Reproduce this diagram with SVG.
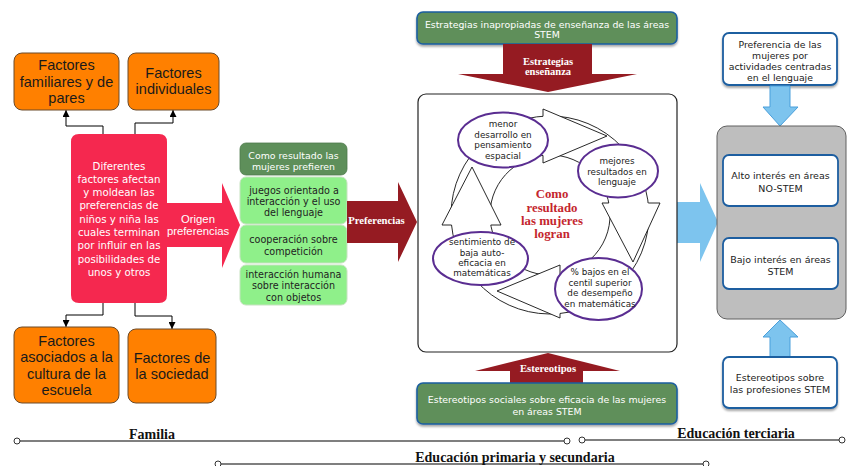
<svg xmlns="http://www.w3.org/2000/svg" width="849" height="466" viewBox="0 0 849 466">
<style>
.orange{fill:#FF8000;stroke:#6A4A2A;stroke-width:1}
.otxt{font-family:"Liberation Sans",Arial,sans-serif;font-size:14.5px;fill:#1a1a1a;text-anchor:middle}
.luc{font-family:"DejaVu Sans",sans-serif;text-anchor:middle}
.w{fill:#ffffff}
.dk{fill:#222222}
.ser{font-family:"Liberation Serif","Times New Roman",serif;font-weight:bold;text-anchor:middle}
.dgreen{fill:#5E8F5A;stroke:#1D5EA0;stroke-width:1.6}
.lgreen{fill:#8FF08A;stroke:#C6E2C0;stroke-width:1}
.darr{fill:#951B22}
.barr{fill:#7DC4EE;stroke:#4A9FDB;stroke-width:1}
.wbox{fill:#ffffff;stroke:#1D5EA0;stroke-width:1.8}
.band{fill:#ffffff;stroke:#111;stroke-width:0.9}
.hfill{fill:#ffffff;stroke:none}
.hstroke{fill:none;stroke:#111;stroke-width:0.9;stroke-linejoin:miter}
.ell{fill:#ffffff;stroke:#5A2D91;stroke-width:2}
.conn{fill:none;stroke:#000;stroke-width:1}
.tl{stroke:#555;stroke-width:1.5;fill:none}
.dot{fill:#fff;stroke:#333;stroke-width:1}
</style>
<defs>
<marker id="ah" viewBox="0 0 8 8" refX="8" refY="4" markerWidth="7" markerHeight="7" markerUnits="userSpaceOnUse" orient="auto"><path d="M0,0 L8,4 L0,8 Z" fill="#000"/></marker>
<filter id="sh" x="-10%" y="-20%" width="120%" height="150%"><feDropShadow dx="0" dy="2" stdDeviation="1.3" flood-color="#000" flood-opacity="0.35"/></filter>
</defs>

<!-- connectors -->
<g id="connectors">
<path class="conn" d="M103,134 V126 H66 V110" marker-end="url(#ah)"/>
<path class="conn" d="M135,134 V123 H173 V110" marker-end="url(#ah)"/>
<path class="conn" d="M103,303 V315 H66 V327" marker-end="url(#ah)"/>
<path class="conn" d="M135,303 V316 H172 V329" marker-end="url(#ah)"/>
</g>

<g id="n-familiares">
<rect class="orange" x="14" y="53" width="105" height="57" rx="8"/>
<text class="otxt" x="66.5" y="70">Factores</text>
<text class="otxt" x="66.5" y="87">familiares y de</text>
<text class="otxt" x="66.5" y="103">pares</text>
</g>
<g id="n-individuales">
<rect class="orange" x="128" y="53" width="91" height="57" rx="8"/>
<text class="otxt" x="173.5" y="78">Factores</text>
<text class="otxt" x="173.5" y="94">individuales</text>
</g>
<g id="n-escuela">
<rect class="orange" x="14" y="327" width="105" height="76" rx="8"/>
<text class="otxt" x="66.5" y="346">Factores</text>
<text class="otxt" x="66.5" y="362">asociados a la</text>
<text class="otxt" x="66.5" y="379">cultura de la</text>
<text class="otxt" x="66.5" y="395">escuela</text>
</g>
<g id="n-sociedad">
<rect class="orange" x="128" y="329" width="88" height="74" rx="8"/>
<text class="otxt" x="172" y="363">Factores de</text>
<text class="otxt" x="172" y="379">la sociedad</text>
</g>

<g id="n-diferentes">
<path d="M79,134 H159 Q167,134 167,142 V203 H222 V183 L240,225 L222,268 V247 H167 V295 Q167,303 159,303 H79 Q71,303 71,295 V142 Q71,134 79,134 Z" fill="#F5284F"/>
<g class="luc w" font-size="10.2">
<text x="119" y="169.5">Diferentes</text>
<text x="119" y="182.8">factores afectan</text>
<text x="119" y="196.1">y moldean las</text>
<text x="119" y="209.4">preferencias de</text>
<text x="119" y="222.7">niños y niña las</text>
<text x="119" y="236">cuales terminan</text>
<text x="119" y="249.3">por influir en las</text>
<text x="119" y="262.6">posibilidades de</text>
<text x="119" y="275.9">unos y otros</text>
</g>
<text x="198" y="223" font-family="Liberation Sans, Arial, sans-serif" font-size="11.3" fill="#fff" text-anchor="middle">Origen</text>
<text x="198" y="235" font-family="Liberation Sans, Arial, sans-serif" font-size="11.3" fill="#fff" text-anchor="middle">preferencias</text>
</g>

<g id="n-prefieren">
<rect class="dgreen" x="240" y="143" width="107" height="32" rx="6" style="stroke:#4E7A4B;stroke-width:0.8"/>
<text class="luc w" font-size="9.4" x="293.5" y="158.5">Como resultado las</text>
<text class="luc w" font-size="9.4" x="293.5" y="169.5">mujeres prefieren</text>
</g>
<g id="n-juegos">
<rect class="lgreen" x="240" y="177" width="107" height="47" rx="6"/>
<text class="luc dk" font-size="9.6" x="294" y="193.5">juegos orientado a</text>
<text class="luc dk" font-size="9.6" x="293.5" y="204.5">interacción y el uso</text>
<text class="luc dk" font-size="9.6" x="293.5" y="215.5">del lenguaje</text>
</g>
<g id="n-cooperacion">
<rect class="lgreen" x="240" y="225" width="107" height="38" rx="6"/>
<text class="luc dk" font-size="9.6" x="293.5" y="242.5">cooperación sobre</text>
<text class="luc dk" font-size="9.6" x="293.5" y="254.5">competición</text>
</g>
<g id="n-interaccion">
<rect class="lgreen" x="240" y="265" width="107" height="40" rx="6"/>
<text class="luc dk" font-size="9.6" x="293.5" y="277.5">interacción humana</text>
<text class="luc dk" font-size="9.6" x="293.5" y="289">sobre interacción</text>
<text class="luc dk" font-size="9.6" x="293.5" y="300.5">con objetos</text>
</g>

<g id="a-preferencias">
<path class="darr" d="M347,201 H398 V182 L417,222 L398,262 V243 H347 Z"/>
<text class="ser w" font-size="10.7" x="376.5" y="224">Preferencias</text>
</g>

<g id="n-estrategias">
<rect class="dgreen" x="417" y="12" width="260" height="32" rx="6" filter="url(#sh)"/>
<text class="luc w" font-size="9.4" x="547" y="27.5">Estrategias inapropiadas de enseñanza de las áreas</text>
<text class="luc w" font-size="9.4" x="547" y="38">STEM</text>
</g>
<g id="a-estrategias">
<path class="darr" d="M503,44 H592 V74 H637 L548,92 L458,74 H503 Z"/>
<text class="ser w" font-size="10.5" x="548" y="64.5">Estrategias</text>
<text class="ser w" font-size="10.5" x="548" y="75">enseñanza</text>
</g>

<!-- big light blue arrow behind gray box -->
<g id="a-resultado">
<path d="M677,202 H700 V183 L718,222 L700,262 V243 H677 Z" fill="#7DC4EE"/>
</g>

<g id="n-ciclo">
<rect x="418" y="94" width="259" height="258" rx="8" fill="#fff" stroke="#222" stroke-width="1.2"/>
<!-- bands -->
<path class="band" d="M497.5,131.0 A99,99 0 0 1 639.7,173.2 L604.4,189.6 A60,60 0 0 0 518.2,164.1 Z"/>
<path class="band" d="M625.8,151.4 A99,99 0 0 1 599.5,300.7 L580,267 A60,60 0 0 0 596,176.4 Z"/>
<path class="band" d="M606.8,296.1 A99,99 0 0 1 464.3,264.5 L498,245 A60,60 0 0 0 584.4,264.2 Z"/>
<path class="band" d="M468.9,271.8 A99,99 0 0 1 500.5,129.3 L520,163 A60,60 0 0 0 500.8,249.4 Z"/>
<!-- heads -->
<polygon class="hfill" points="543,109 607,136 543,163"/>
<path class="hstroke" d="M543,155.4 L543,163 L607,136 L543,109 L543,116.3"/>
<polygon class="hfill" points="602,203 633,262 660,203"/>
<path class="hstroke" d="M608.8,203 L602,203 L633,262 L660,203 L648.3,203"/>
<polygon class="hfill" points="560,265 497,291 560,318"/>
<path class="hstroke" d="M560,274.2 L560,265 L497,291 L560,318 L560,313.5"/>
<polygon class="hfill" points="501,225 472,167 442,225"/>
<path class="hstroke" d="M490.8,225 L501,225 L472,167 L442,225 L451.5,225"/>
<g class="ser" font-size="12.8" fill="#C4262E">
<text x="552" y="197.5">Como</text>
<text x="552" y="211.5">resultado</text>
<text x="552" y="224.5">las mujeres</text>
<text x="552" y="238">logran</text>
</g>
</g>
<g id="n-espacial">
<ellipse class="ell" cx="503" cy="140" rx="45" ry="27.5"/>
<g class="luc dk" font-size="8.8">
<text x="503" y="127">menor</text>
<text x="503" y="137.5">desarrollo en</text>
<text x="503" y="148">pensamiento</text>
<text x="503" y="158.5">espacial</text>
</g>
</g>
<g id="n-lenguaje">
<ellipse class="ell" cx="618" cy="171" rx="40" ry="26.5"/>
<g class="luc dk" font-size="8.8">
<text x="617" y="164">mejores</text>
<text x="617" y="174.5">resultados en</text>
<text x="617" y="185">lenguaje</text>
</g>
</g>
<g id="n-centil">
<ellipse class="ell" cx="598.5" cy="289" rx="43.5" ry="31"/>
<g class="luc dk" font-size="8.8">
<text x="600" y="275">% bajos en el</text>
<text x="600" y="285.5">centil superior</text>
<text x="600" y="296">de desempeño</text>
<text x="600" y="307">en matemáticas</text>
</g>
</g>
<g id="n-autoeficacia">
<ellipse class="ell" cx="480.5" cy="258.5" rx="47.5" ry="26.5"/>
<g class="luc dk" font-size="8.8">
<text x="482" y="245">sentimiento de</text>
<text x="482" y="255.5">baja auto-</text>
<text x="482" y="265.5">eficacia en</text>
<text x="482" y="276">matemáticas</text>
</g>
</g>

<g id="a-estereotipos">
<path class="darr" d="M510,383 V371 H475 L548,353 L620,371 H583 V383 Z"/>
<text class="ser w" font-size="10.7" x="548" y="371.5">Estereotipos</text>
</g>
<g id="n-estereotipos-sociales">
<rect class="dgreen" x="417" y="383" width="260" height="41" rx="6" filter="url(#sh)"/>
<text class="luc w" font-size="9.4" x="547" y="402.5">Estereotipos sociales sobre eficacia de las mujeres</text>
<text class="luc w" font-size="9.4" x="547" y="414.5">en áreas STEM</text>
</g>

<g id="n-pref-lenguaje">
<rect class="wbox" x="723" y="33" width="114" height="52" rx="6" filter="url(#sh)"/>
<g class="luc dk" font-size="9.3">
<text x="780" y="47.5">Preferencia de las</text>
<text x="780" y="58.5">mujeres por</text>
<text x="780" y="69.5">actividades centradas</text>
<text x="780" y="80.5">en el lenguaje</text>
</g>
</g>
<g id="a-down">
<path class="barr" d="M770,86 V107 H763 L780,126 L798,107 H790 V86 Z"/>
</g>
<g id="n-interes">
<rect x="717" y="126" width="129" height="193" rx="10" fill="#BEBEBE" stroke="#606060" stroke-width="1"/>
</g>
<g id="n-alto">
<rect class="wbox" x="723" y="155" width="115" height="51" rx="6"/>
<text class="luc dk" font-size="9.5" x="780.5" y="179">Alto interés en áreas</text>
<text class="luc dk" font-size="9.5" x="780.5" y="191.5">NO-STEM</text>
</g>
<g id="n-bajo">
<rect class="wbox" x="723" y="238" width="115" height="51" rx="6"/>
<text class="luc dk" font-size="9.5" x="780.5" y="262.5">Bajo interés en áreas</text>
<text class="luc dk" font-size="9.5" x="780.5" y="274.5">STEM</text>
</g>
<g id="a-up">
<path class="barr" d="M770,357 V337 H763 L780,320 L798,337 H790 V357 Z"/>
</g>
<g id="n-profesiones">
<rect class="wbox" x="723" y="357" width="114" height="51" rx="6" filter="url(#sh)"/>
<text class="luc dk" font-size="9.5" x="780" y="381">Estereotipos sobre</text>
<text class="luc dk" font-size="9.5" x="780" y="393">las profesiones STEM</text>
</g>

<g id="timeline">
<line class="tl" x1="17" y1="441" x2="567" y2="441"/>
<circle class="dot" cx="17" cy="441" r="3"/>
<circle class="dot" cx="567" cy="441" r="3"/>
<line class="tl" x1="582" y1="440" x2="842" y2="440"/>
<circle class="dot" cx="582" cy="440" r="3"/>
<circle class="dot" cx="842" cy="440" r="3"/>
<line class="tl" x1="218" y1="464" x2="706" y2="464"/>
<circle class="dot" cx="218" cy="464" r="3"/>
<circle class="dot" cx="706" cy="464" r="3"/>
<text class="ser" font-size="14" fill="#111" x="152" y="439">Familia</text>
<text class="ser" font-size="14" fill="#111" x="736" y="438">Educación terciaria</text>
<text class="ser" font-size="14" fill="#111" x="515" y="462">Educación primaria y secundaria</text>
</g>
</svg>
